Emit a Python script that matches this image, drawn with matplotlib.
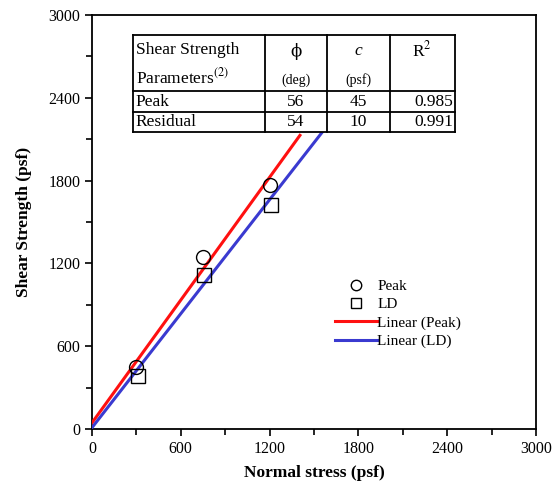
import matplotlib.pyplot as plt
from matplotlib.ticker import MultipleLocator
import numpy as np

plt.rcParams['font.family'] = ['Liberation Serif', 'DejaVu Serif']
plt.rcParams['mathtext.fontset'] = 'stix'

peak_x = [300, 750, 1200]
peak_y = [450, 1250, 1770]
ld_x = [310, 755, 1210]
ld_y = [385, 1115, 1625]

# fitted lines (phi in deg, c in psf) and x range shown
peak_phi, peak_c = 56, 45
ld_phi, ld_c = 54, 10
peak_fit_x = [0, 1405]
ld_fit_x = [0, 1555]

tab_rows = ['Peak', 'Residual']
tab_phi = ['56', '54']
tab_c = ['45', '10']
tab_r2 = ['0.985', '0.991']

fig = plt.figure(figsize=(5.52, 4.94), dpi=100)
ax = fig.add_axes([92/552, 1-429/494, 444/552, 414/494])

def fit(xs, phi, c):
    xs = np.array(xs, dtype=float)
    return xs, c + np.tan(np.radians(phi)) * xs

ax.plot(peak_x, peak_y, 'o', mfc='none', mec='black', ms=10, mew=1.0, label='Peak', zorder=4)
ax.plot(ld_x, ld_y, 's', mfc='none', mec='black', ms=10, mew=1.0, label='LD', zorder=4)
fx, fy = fit(peak_fit_x, peak_phi, peak_c)
ax.plot(fx, fy, color='#ff1010', lw=2.2, label='Linear (Peak)', zorder=3)
fx, fy = fit(ld_fit_x, ld_phi, ld_c)
ax.plot(fx, fy, color='#3a3ad0', lw=2.2, label='Linear (LD)', zorder=3)

ax.set_xlim(0, 3000)
ax.set_ylim(0, 3000)
ax.xaxis.set_major_locator(MultipleLocator(600))
ax.yaxis.set_major_locator(MultipleLocator(600))
ax.xaxis.set_minor_locator(MultipleLocator(300))
ax.yaxis.set_minor_locator(MultipleLocator(300))
ax.tick_params(which='both', direction='out', width=1.2, labelsize=11.5)
ax.tick_params(which='major', length=5)
ax.tick_params(which='minor', length=4)
for s in ax.spines.values():
    s.set_linewidth(1.3)

ax.set_xlabel('Normal stress (psf)', fontsize=12.5, fontweight='bold', labelpad=6)
ax.set_ylabel('Shear Strength (psf)', fontsize=12.5, fontweight='bold', labelpad=12)

leg = ax.legend(loc='upper left', bbox_to_anchor=(0.529, 0.38), frameon=False,
                fontsize=11, handlelength=2.75, handletextpad=0.05, borderpad=0,
                labelspacing=0.3, markerscale=0.75)

# table drawn in axes fraction
x_edges = [0.092, 0.389, 0.529, 0.671, 0.817]
y_edges = [0.952, 0.816, 0.766, 0.717]
bg = plt.Rectangle((x_edges[0], y_edges[-1]), x_edges[-1]-x_edges[0], y_edges[0]-y_edges[-1],
                   transform=ax.transAxes, facecolor='white', edgecolor='none', zorder=5)
ax.add_patch(bg)
for xe in x_edges:
    ax.plot([xe, xe], [y_edges[-1], y_edges[0]], color='black', lw=1.3,
            transform=ax.transAxes, zorder=6, clip_on=False)
for ye in y_edges:
    ax.plot([x_edges[0], x_edges[-1]], [ye, ye], color='black', lw=1.3,
            transform=ax.transAxes, zorder=6, clip_on=False)

tk = dict(transform=ax.transAxes, zorder=7, fontsize=12.5)
ax.text(x_edges[0]+0.008, 0.915, 'Shear Strength', ha='left', va='center', **tk)
ax.text(x_edges[0]+0.008, 0.850, 'Parameters$^{(2)}$', ha='left', va='center', **tk)
mid = [(x_edges[i]+x_edges[i+1])/2 for i in range(4)]
ax.text(mid[1], 0.912, '\u03d5', ha='center', va='center', transform=ax.transAxes, zorder=7,
        fontsize=12, family=['DejaVu Serif'])
ax.text(mid[1], 0.842, '(deg)', ha='center', va='center', transform=ax.transAxes, zorder=7, fontsize=10)
ax.text(mid[2], 0.912, 'c', ha='center', va='center', style='italic', **tk)
ax.text(mid[2], 0.842, '(psf)', ha='center', va='center', transform=ax.transAxes, zorder=7, fontsize=10)
ax.text(mid[3], 0.915, 'R$^2$', ha='center', va='center', **tk)
row_y = [(y_edges[1]+y_edges[2])/2, (y_edges[2]+y_edges[3])/2]
for i in range(2):
    ax.text(x_edges[0]+0.006, row_y[i], tab_rows[i], ha='left', va='center', **tk)
    ax.text(mid[1], row_y[i], tab_phi[i], ha='center', va='center', **tk)
    ax.text(mid[2], row_y[i], tab_c[i], ha='center', va='center', **tk)
    ax.text(x_edges[4]-0.004, row_y[i], tab_r2[i], ha='right', va='center', **tk)

fig.savefig('out.png', dpi=100)
